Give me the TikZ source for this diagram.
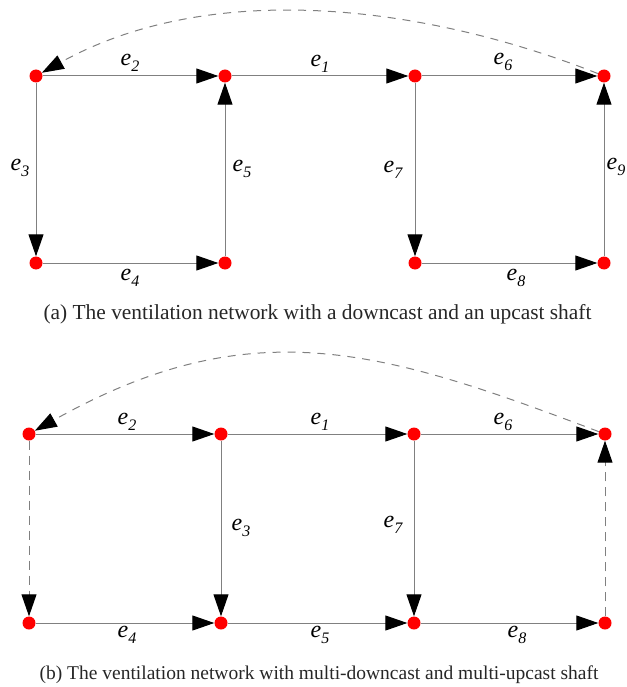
\documentclass[tikz,border=0pt]{standalone}
\usepackage{fontspec}
\setmainfont{Liberation Serif}
\usetikzlibrary{arrows.meta}
\newcommand{\elab}[1]{{\fontsize{24}{24}\selectfont\itshape e\kern0.3pt\raisebox{-6pt}{\fontsize{16}{16}\selectfont #1}}}
\begin{document}
\begin{tikzpicture}[x=1pt,y=-1pt,
  vtx/.style={circle,fill=red,inner sep=0pt,minimum size=13pt},
  edg/.style={draw=black!50,line width=1pt,-{Triangle[length=22pt,width=15pt,black]}},
  dedg/.style={edg,dash pattern=on 9pt off 6pt},
  lbl/.style={inner sep=0pt,anchor=center},
  captxt/.style={inner sep=0pt,anchor=base,text=black!85}]
\useasboundingbox (0,0) rectangle (626,687);
% ---------- (a) ----------
\node[vtx] (a1) at (36,76) {};
\node[vtx] (a2) at (225,76) {};
\node[vtx] (a3) at (415,76) {};
\node[vtx] (a4) at (604,76) {};
\node[vtx] (a5) at (36,263) {};
\node[vtx] (a6) at (225,263) {};
\node[vtx] (a7) at (415,263) {};
\node[vtx] (a8) at (604,263) {};
\draw[edg] (a1) -- (a2);
\draw[edg] (a2) -- (a3);
\draw[edg] (a3) -- (a4);
\draw[edg] (a1) -- (a5);
\draw[edg] (a5) -- (a6);
\draw[edg] (a6) -- (a2);
\draw[edg] (a3) -- (a7);
\draw[edg] (a7) -- (a8);
\draw[edg] (a8) -- (a4);
\draw[dedg,dash pattern=on 8pt off 7pt] (a4) .. controls (427,6) and (213,-22) .. (a1);
\node[lbl] (la2) at (130,63) {\elab{2}};
\node[lbl] (la1) at (320,64) {\elab{1}};
\node[lbl] (la6) at (503,62) {\elab{6}};
\node[lbl] (la3) at (20,168) {\elab{3}};
\node[lbl] (la5) at (242,169) {\elab{5}};
\node[lbl] (la7) at (393,170) {\elab{7}};
\node[lbl] (la9) at (616,167) {\elab{9}};
\node[lbl] (la4) at (130,278) {\elab{4}};
\node[lbl] (la8) at (516,278) {\elab{8}};
\node[captxt,font=\fontsize{21.4}{21.4}\selectfont] (capa) at (317.5,319) {(a) The ventilation network with a downcast and an upcast shaft};
% ---------- (b) ----------
\node[vtx] (b1) at (29,434) {};
\node[vtx] (b2) at (221,434) {};
\node[vtx] (b3) at (414,434) {};
\node[vtx] (b4) at (605,434) {};
\node[vtx] (b5) at (29,623) {};
\node[vtx] (b6) at (221,623) {};
\node[vtx] (b7) at (414,623) {};
\node[vtx] (b8) at (605,623) {};
\draw[edg] (b1) -- (b2);
\draw[edg] (b2) -- (b3);
\draw[edg] (b3) -- (b4);
\draw[edg] (b2) -- (b6);
\draw[edg] (b3) -- (b7);
\draw[edg] (b5) -- (b6);
\draw[edg] (b6) -- (b7);
\draw[edg] (b7) -- (b8);
\draw[dedg] (b1) -- (b5);
\draw[dedg] (b8) -- (b4);
\draw[dedg,dash pattern=on 8pt off 7pt] (b4) .. controls (382,349.5) and (252,309) .. (b1);
\node[lbl] (lb2) at (127,422) {\elab{2}};
\node[lbl] (lb1) at (320,422) {\elab{1}};
\node[lbl] (lb6) at (503,422) {\elab{6}};
\node[lbl] (lb3) at (241,528) {\elab{3}};
\node[lbl] (lb7) at (393,525) {\elab{7}};
\node[lbl] (lb4) at (127,635) {\elab{4}};
\node[lbl] (lb5) at (320,635) {\elab{5}};
\node[lbl] (lb8) at (517,635) {\elab{8}};
\node[captxt,font=\fontsize{19.5}{19.5}\selectfont] (capb) at (319,679) {(b) The ventilation network with multi-downcast and multi-upcast shaft};
\end{tikzpicture}
\end{document}
